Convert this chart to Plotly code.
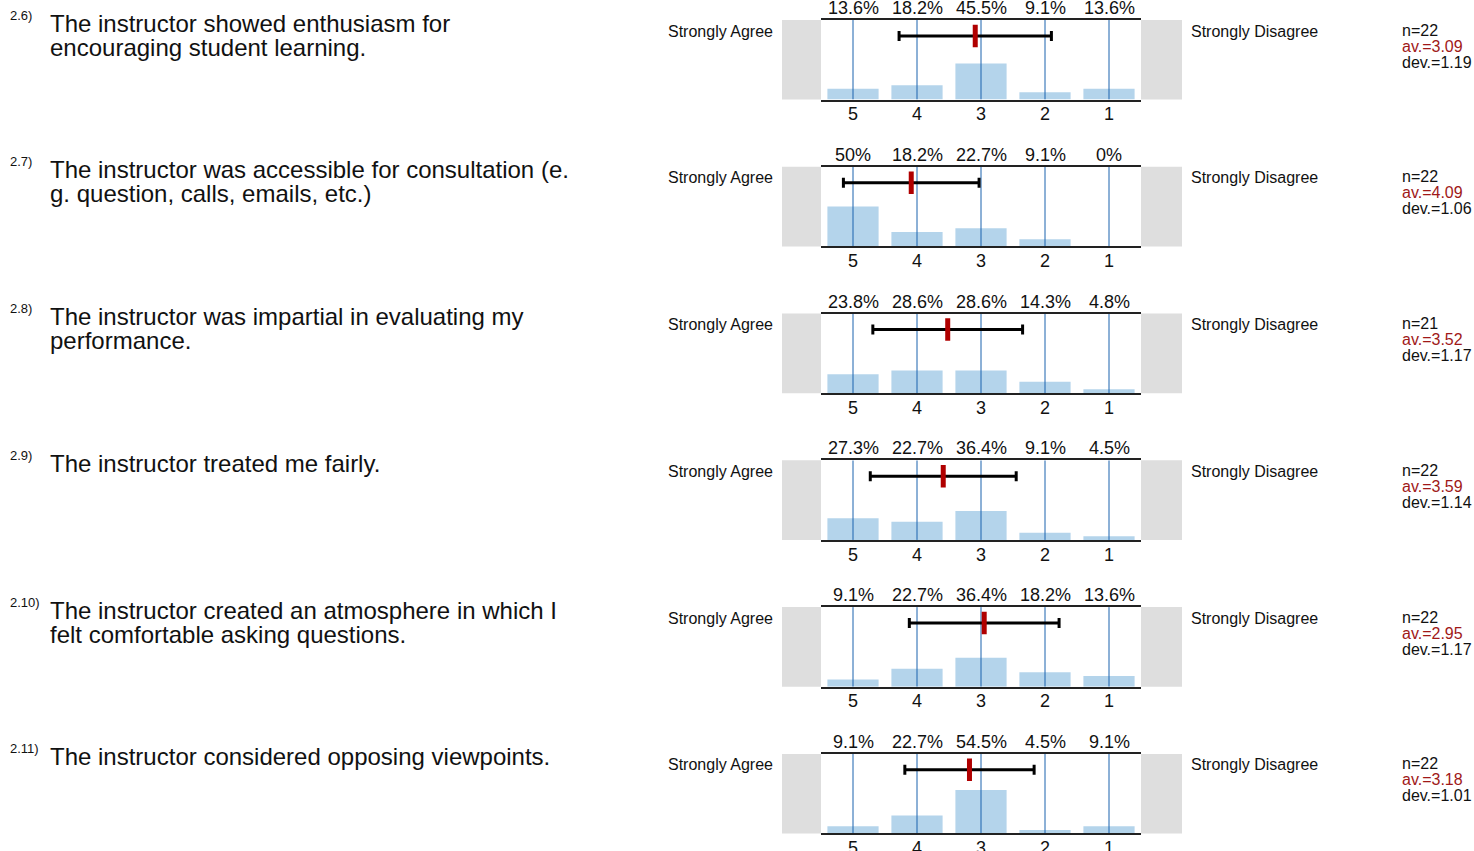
import plotly.graph_objects as go

# ---------------- data ----------------
numbers = ["2.6)", "2.7)", "2.8)", "2.9)", "2.10)", "2.11)"]
questions = [
    ["The instructor showed enthusiasm for", "encouraging student learning."],
    ["The instructor was accessible for consultation (e.", "g. question, calls, emails, etc.)"],
    ["The instructor was impartial in evaluating my", "performance."],
    ["The instructor treated me fairly."],
    ["The instructor created an atmosphere in which I", "felt comfortable asking questions."],
    ["The instructor considered opposing viewpoints."],
]
categories = [5, 4, 3, 2, 1]
tick_labels = ["5", "4", "3", "2", "1"]
percents = [
    [13.6, 18.2, 45.5, 9.1, 13.6],
    [50, 18.2, 22.7, 9.1, 0],
    [23.8, 28.6, 28.6, 14.3, 4.8],
    [27.3, 22.7, 36.4, 9.1, 4.5],
    [9.1, 22.7, 36.4, 18.2, 13.6],
    [9.1, 22.7, 54.5, 4.5, 9.1],
]
n_values = [22, 22, 21, 22, 22, 22]
averages = [3.09, 4.09, 3.52, 3.59, 2.95, 3.18]
deviations = [1.19, 1.06, 1.17, 1.14, 1.17, 1.01]
left_label = "Strongly Agree"
right_label = "Strongly Disagree"

# ---------------- layout geometry ----------------
W, H = 1474, 851          # target picture size
FIG_H = 858               # page height that is captured into the 851px picture
PX_L, PX_R = 821, 1141
GRAY_L, GRAY_R = 782, 1182
PANEL_H = 79.5
tops = [20 + 146.6 * i for i in range(len(questions))]

BAR_COLOR = "#b4d4eb"
LINE_BLUE = "#1a62ae"
RED = "#b00000"
TXT = "#111111"
FONT = "Liberation Sans, Arial, sans-serif"


def px(x):
    return x / W


def py(y):
    return 1 - y / H


fig = go.Figure()
layout = dict(
    width=W, height=FIG_H, autosize=False,
    margin=dict(l=0, r=0, t=0, b=0, pad=0),
    paper_bgcolor="white", plot_bgcolor="white",
    showlegend=False, font=dict(family=FONT, color=TXT),
)
shapes = []
annotations = []

for i in range(len(questions)):
    xa = "x" if i == 0 else f"x{i + 1}"
    ya = "y" if i == 0 else f"y{i + 1}"
    xk = "xaxis" if i == 0 else f"xaxis{i + 1}"
    yk = "yaxis" if i == 0 else f"yaxis{i + 1}"
    top = tops[i]
    bot = top + PANEL_H

    layout[xk] = dict(
        domain=[px(PX_L), px(PX_R)], anchor=ya, range=[5.5, 0.5],
        tickmode="array", tickvals=categories, ticktext=tick_labels,
        tickfont=dict(size=18, color=TXT), ticks="", ticklabelstandoff=-3,
        showgrid=False, zeroline=False, showline=True, mirror=True,
        linecolor="#222222", linewidth=2, fixedrange=True,
    )
    layout[yk] = dict(
        domain=[py(bot), py(top)], anchor=xa, range=[0, 1], visible=False,
        fixedrange=True,
    )

    # bars
    fig.add_trace(go.Bar(
        x=categories, y=[p / 100 for p in percents[i]], width=0.8,
        marker=dict(color=BAR_COLOR, line=dict(width=0)),
        xaxis=xa, yaxis=ya, hoverinfo="skip",
    ))
    # vertical blue lines at each category
    lx, ly = [], []
    for c in categories:
        lx += [c, c, None]
        ly += [0, 1, None]
    fig.add_trace(go.Scatter(
        x=lx, y=ly, mode="lines", line=dict(color=LINE_BLUE, width=1),
        xaxis=xa, yaxis=ya, hoverinfo="skip",
    ))
    # mean +- deviation
    fig.add_trace(go.Scatter(
        x=[averages[i]], y=[0.8], mode="markers",
        error_x=dict(type="data", array=[deviations[i]], color="black",
                     thickness=3, width=5),
        marker=dict(symbol="line-ns", size=16, color=RED,
                    line=dict(width=5, color=RED)),
        xaxis=xa, yaxis=ya, hoverinfo="skip",
    ))

    # gray side blocks
    for x0, x1 in [(GRAY_L, PX_L), (PX_R, GRAY_R)]:
        shapes.append(dict(type="rect", xref="paper", yref="paper",
                           x0=px(x0), x1=px(x1), y0=py(bot), y1=py(top),
                           fillcolor="#dedede", line=dict(width=0),
                           layer="below"))

    # percent labels above
    for c, p in zip(categories, percents[i]):
        annotations.append(dict(
            x=c, y=1, xref=xa, yref=f"{ya} domain", text=f"{p:g}%",
            showarrow=False, xanchor="center", yanchor="bottom",
            font=dict(size=18, color=TXT),
        ))

    # question number and text
    annotations.append(dict(
        x=px(8), y=py(top - 5), xref="paper", yref="paper", text=numbers[i],
        showarrow=False, xanchor="left", yanchor="middle",
        font=dict(size=13, color=TXT),
    ))
    for j, line in enumerate(questions[i]):
        annotations.append(dict(
            x=px(48), y=py(top + 3 + 24 * j), xref="paper", yref="paper",
            text=line, showarrow=False, xanchor="left", yanchor="middle",
            font=dict(size=24, color=TXT),
        ))

    # side labels
    annotations.append(dict(
        x=px(775), y=py(top + 11), xref="paper", yref="paper", text=left_label,
        showarrow=False, xanchor="right", yanchor="middle",
        font=dict(size=16, color=TXT),
    ))
    annotations.append(dict(
        x=px(1189), y=py(top + 11), xref="paper", yref="paper", text=right_label,
        showarrow=False, xanchor="left", yanchor="middle",
        font=dict(size=16, color=TXT),
    ))

    # stats
    stats = [(f"n={n_values[i]}", TXT), (f"av.={averages[i]:.2f}", "#a01818"),
             (f"dev.={deviations[i]:.2f}", TXT)]
    for k, (t, col) in enumerate(stats):
        annotations.append(dict(
            x=px(1400), y=py(top + 10 + 16 * k), xref="paper", yref="paper",
            text=t, showarrow=False, xanchor="left", yanchor="middle",
            font=dict(size=16, color=col),
        ))

layout["shapes"] = shapes
layout["annotations"] = annotations
fig.update_layout(**layout)

fig.write_html(
    "out.html",
    config={"displayModeBar": False, "responsive": False},
    default_width=f"{W}px",
    default_height=f"{FIG_H}px",
    post_script="document.body.style.margin='0';document.body.style.overflow='hidden';",
)
